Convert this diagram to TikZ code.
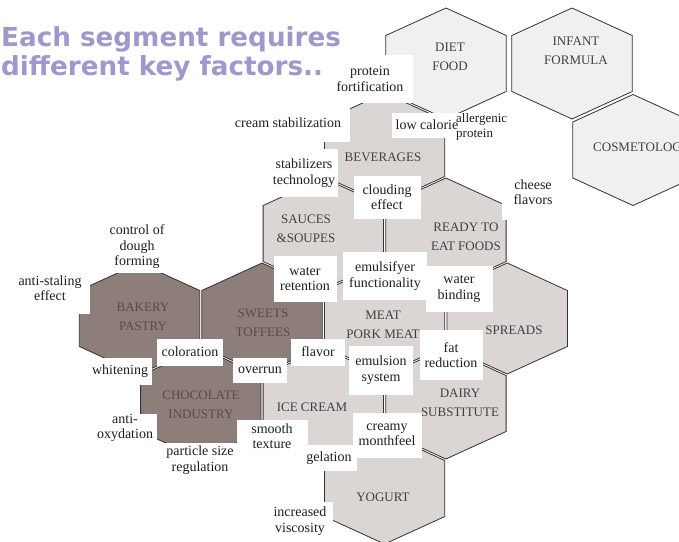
\documentclass[tikz,border=0pt]{standalone}
\usepackage{fontspec}
\setmainfont{Liberation Serif}
\newfontfamily\titlefont{DejaVu Sans}
\usepackage{xcolor}
\usepackage{tikz}

\definecolor{hexlight}{HTML}{F1F0F0}
\definecolor{hexmid}{HTML}{DBD6D3}
\definecolor{hexdark}{HTML}{8D7E7A}
\definecolor{titlecol}{HTML}{9E98CC}
\definecolor{darktext}{HTML}{574B48}

\tikzset{
  hexcell/.style={draw=black!80, line width=0.8pt},
  seglabel/.style={align=center, inner sep=0pt, text=black!75, font=\fontsize{13}{19}\selectfont},
  factor/.style={fill=white, align=center, inner sep=0pt, text=black!88, font=\fontsize{14}{15.5}\selectfont},
  headline/.style={anchor=base west, inner sep=0pt, text=titlecol, font=\titlefont\bfseries\fontsize{26.2}{30}\selectfont}
}

\begin{document}
\begin{tikzpicture}[x=1pt, y=-1pt]
        \useasboundingbox[fill=white] (0,0) rectangle (679,541);

        % the honeycomb
        \foreach \x/\y/\c in {
          446/63.5/hexlight, 572/63.5/hexlight, 633/150/hexlight,
          384.6/148.5/hexmid,
          323.3/233.5/hexmid, 445.9/233.5/hexmid,
          139.5/318.5/hexdark, 262/318.5/hexdark, 384.6/318.5/hexmid, 507.2/318.5/hexmid,
          200.8/403.5/hexdark, 323.3/403.5/hexmid, 445.9/403.5/hexmid,
          384.6/488.5/hexmid}
        \draw[hexcell, fill=\c, shift={(\x,\y)}]
          (60.2,-28) -- (0,-55.5) -- (-60.2,-28) -- (-60.2,28) -- (0,55.5) -- (60.2,28) -- cycle;

        \node[headline] (title1) at (1,46) {Each segment requires};
        \node[headline] (title2) at (1,75.5) {different key factors..};

        % segments
        \node[seglabel] (diet) at (450,57) {DIET\\FOOD};
        \node[seglabel] (infant) at (576,51) {INFANT\\FORMULA};
        \node[seglabel, anchor=west] (cosmo) at (593,147) {COSMETOLOGY};
        \node[seglabel] (bev) at (383,157) {BEVERAGES};
        \node[seglabel] (sauces) at (306,229) {SAUCES\\\&SOUPES};
        \node[seglabel] (ready) at (466,237) {READY TO\\EAT FOODS};
        \node[seglabel, text=darktext] (bakery) at (143,317) {BAKERY\\PASTRY};
        \node[seglabel, text=darktext] (sweets) at (263,323) {SWEETS\\TOFFEES};
        \node[seglabel] (meat) at (383,325) {MEAT\\PORK MEAT};
        \node[seglabel] (spreads) at (514,330) {SPREADS};
        \node[seglabel, text=darktext] (choc) at (201,405) {CHOCOLATE\\INDUSTRY};
        \node[seglabel] (ice) at (312,407) {ICE CREAM};
        \node[seglabel] (dairy) at (460,403) {DAIRY\\SUBSTITUTE};
        \node[seglabel] (yogurt) at (383,497) {YOGURT};

        % key factors
        \node[factor, minimum width=86, minimum height=48] (prot) at (370,79) {protein\\fortification};
        \node[factor, minimum width=123, minimum height=37] (cream) at (288,123) {cream stabilization};
        \node[factor, minimum width=71, minimum height=25] (lowcal) at (427,125) {low calorie};
        \node[factor, fill=none, align=left, anchor=west, font=\fontsize{13}{15.5}\selectfont] (allerg) at (456,127) {allergenic\\protein};
        \node[factor, minimum width=68, minimum height=48] (stab) at (304,173) {stabilizers\\technology};
        \node[factor, minimum width=62, minimum height=55] (cheese) at (533,192) {cheese\\flavors};
        \node[factor, minimum width=67, minimum height=43] (cloud) at (387,197) {clouding\\effect};
        \node[factor, minimum width=56, minimum height=52] (dough) at (137,247) {control of\\dough\\forming};
        \node[factor, minimum width=80, minimum height=52] (stale) at (50,288) {anti-staling\\effect};
        \node[factor, minimum width=63, minimum height=46] (wret) at (305,279) {water\\retention};
        \node[factor, minimum width=84, minimum height=48] (emuls) at (385,276) {emulsifyer\\functionality};
        \node[factor, minimum width=67, minimum height=46] (wbind) at (459,289) {water\\binding};
        \node[factor, minimum width=63, minimum height=50] (fat) at (451,355) {fat\\reduction};
        \node[factor, minimum width=54, minimum height=27] (flavor) at (318,352) {flavor};
        \node[factor, minimum width=64, minimum height=49] (emsys) at (381,370) {emulsion\\system};
        \node[factor, minimum width=66, minimum height=27] (color) at (190,352) {coloration};
        \node[factor, minimum width=54, minimum height=25] (overrun) at (260,370) {overrun};
        \node[factor, minimum width=64, minimum height=27] (whiten) at (120,371) {whitening};
        \node[factor, minimum width=64, minimum height=28] (oxyd) at (125,428) {anti-\\oxydation};
        \node[factor, minimum width=76, minimum height=34] (partic) at (200,460) {particle size\\regulation};
        \node[factor, minimum width=71, minimum height=32] (smooth) at (272,436) {smooth\\texture};
        \node[factor, minimum width=56, minimum height=26] (gel) at (329,458) {gelation};
        \node[factor, minimum width=69, minimum height=45] (creamy) at (387,435) {creamy\\monthfeel};
        \node[factor, minimum width=65, minimum height=38] (visc) at (300,521) {increased\\viscosity};
      \end{tikzpicture}
\end{document}
